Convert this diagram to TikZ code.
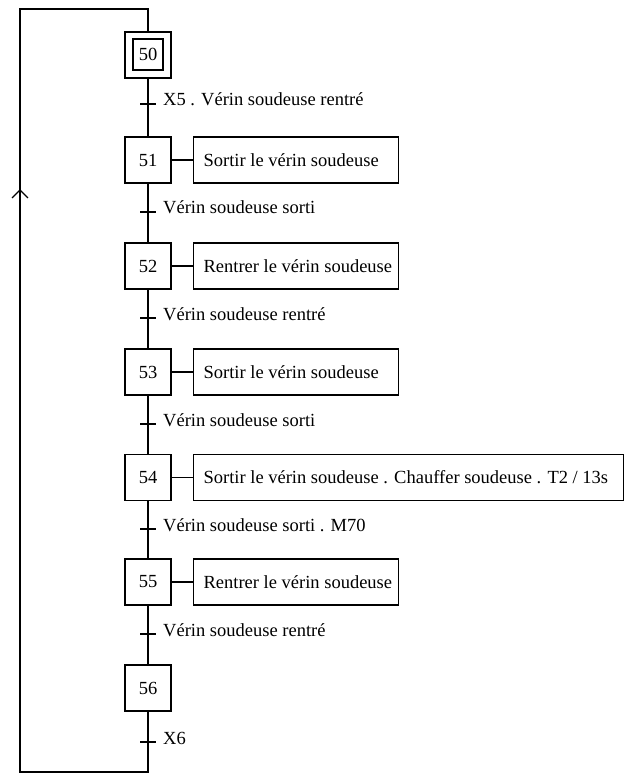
\documentclass[tikz,border=0pt]{standalone}
\usepackage{fontspec}
\setmainfont{Liberation Serif}
\begin{document}
\begin{tikzpicture}[x=1pt,y=-1pt,
  every node/.style={font=\fontsize{18.5}{22}\selectfont},
  ln/.style={line width=1.2pt,line cap=butt},
  stepbox/.style={draw,line width=1.2pt,minimum width=46pt,minimum height=46pt,inner sep=0pt},
  actbox/.style={draw,line width=1.2pt,minimum height=46pt,anchor=west,inner xsep=10pt,inner ysep=0pt},
  cond/.style={anchor=base west,inner sep=0pt}]
\useasboundingbox (0,0) rectangle (624,775);
% steps
\node[stepbox] (s50) at (148,55) {};
\node[draw,line width=1.2pt,minimum width=30pt,minimum height=31pt,inner sep=0pt] (s50in) at (148,54.5) {50};
\node[stepbox] (s51) at (148,160) {51};
\node[stepbox] (s52) at (148,266) {52};
\node[stepbox] (s53) at (148,372) {53};
\node[stepbox] (s54) at (148,477.5) {54};
\node[stepbox] (s55) at (148,582) {55};
\node[stepbox] (s56) at (148,688) {56};
% actions
\node[actbox] (a51) at (193,160) {\makebox[185pt][l]{Sortir le vérin soudeuse}};
\node[actbox] (a52) at (193,266) {\makebox[185pt][l]{Rentrer le vérin soudeuse}};
\node[actbox] (a53) at (193,372) {\makebox[185pt][l]{Sortir le vérin soudeuse}};
\node[actbox] (a54) at (193,477.5) {\makebox[410pt][l]{Sortir le vérin soudeuse . Chauffer soudeuse . T2 / 13s}};
\node[actbox] (a55) at (193,582) {\makebox[185pt][l]{Rentrer le vérin soudeuse}};
\foreach \s in {51,52,53,54,55}{\draw[ln] (s\s.east) -- (a\s.west);}
% links between steps
\draw[ln] (s50) -- (s51);
\draw[ln] (s51) -- (s52);
\draw[ln] (s52) -- (s53);
\draw[ln] (s53) -- (s54);
\draw[ln] (s54) -- (s55);
\draw[ln] (s55) -- (s56);
% transitions
\coordinate (t1) at (148,104);
\coordinate (t2) at (148,212);
\coordinate (t3) at (148,318);
\coordinate (t4) at (148,424);
\coordinate (t5) at (148,529);
\coordinate (t6) at (148,634);
\coordinate (t7) at (148,742);
\foreach \t in {1,...,7}{\draw[ln] ([xshift=-8pt]t\t) -- ([xshift=8pt]t\t);}
\node[cond] (c1) at (163,106) {X5 . Vérin soudeuse rentré};
\node[cond] (c2) at (163,214) {Vérin soudeuse sorti};
\node[cond] (c3) at (163,320) {Vérin soudeuse rentré};
\node[cond] (c4) at (163,426) {Vérin soudeuse sorti};
\node[cond] (c5) at (163,531) {Vérin soudeuse sorti . M70};
\node[cond] (c6) at (163,636) {Vérin soudeuse rentré};
\node[cond] (c7) at (163,744) {X6};
% return loop
\coordinate (br) at (148,772);
\coordinate (bl) at (20,772);
\coordinate (tl) at (20,9);
\coordinate (tr) at (148,9);
\coordinate (arr) at (20,190);
\draw[ln,line join=miter] (s56.south) -- (br) -- (bl) -- (tl) -- (tr) -- (s50.north);
\draw[ln] ([shift={(-8,8)}]arr) -- (arr) -- ([shift={(8,8)}]arr);
\end{tikzpicture}
\end{document}
